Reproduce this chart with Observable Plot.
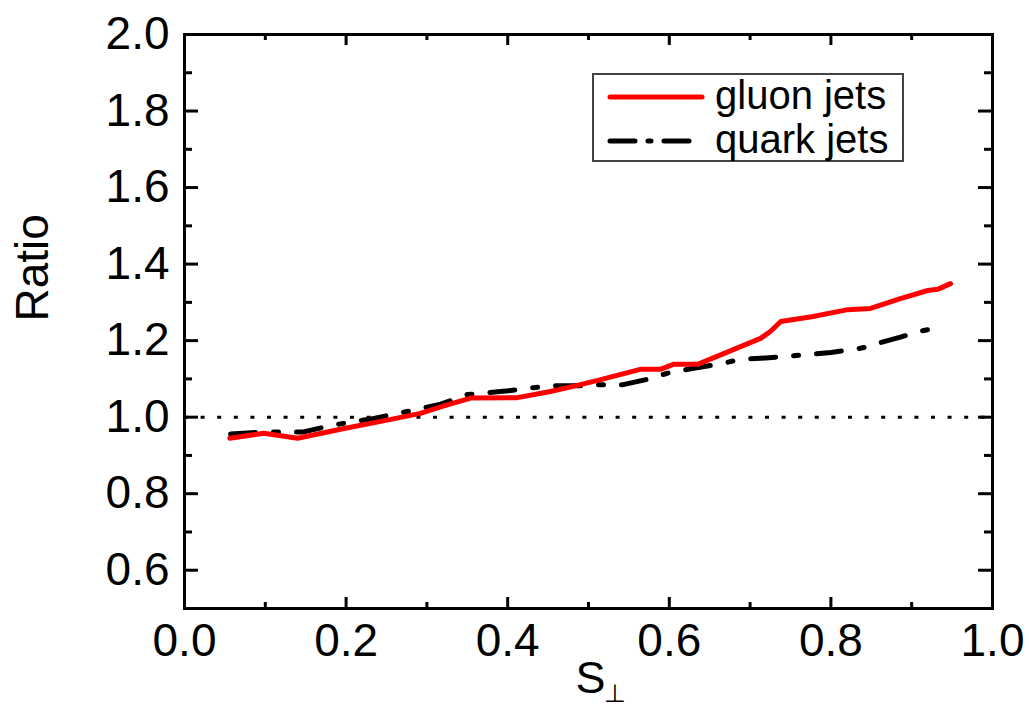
<!DOCTYPE html>
<html>
<head>
<meta charset="utf-8">
<script src="https://cdn.jsdelivr.net/npm/d3@7"></script>
<script src="https://cdn.jsdelivr.net/npm/@observablehq/plot@0.6"></script>
<style>
  html, body { margin: 0; padding: 0; background: #fff; }
  #wrap { position: relative; width: 1029px; height: 711px; overflow: hidden; font-family: "Liberation Sans", Arial, sans-serif; }
  #legend { position: absolute; left: 592px; top: 73px; }
</style>
</head>
<body>
<div id="wrap"></div>
<script>
// ---- data ----
const gluonX = [0.056, 0.098, 0.140, 0.199, 0.243, 0.292, 0.317, 0.354, 0.412, 0.453, 0.490, 0.515, 0.564, 0.589, 0.605, 0.635, 0.713, 0.725, 0.738, 0.778, 0.821, 0.849, 0.886, 0.920, 0.932, 0.948];
const gluonY = [0.945, 0.958, 0.945, 0.971, 0.989, 1.010, 1.027, 1.050, 1.051, 1.067, 1.085, 1.098, 1.125, 1.125, 1.138, 1.138, 1.206, 1.224, 1.250, 1.263, 1.281, 1.284, 1.310, 1.331, 1.334, 1.349];
const quarkX = [0.057, 0.097, 0.146, 0.183, 0.230, 0.290, 0.317, 0.350, 0.375, 0.401, 0.432, 0.459, 0.494, 0.515, 0.543, 0.573, 0.598, 0.630, 0.660, 0.688, 0.713, 0.746, 0.771, 0.800, 0.828, 0.849, 0.858, 0.886, 0.911, 0.939];
const quarkY = [0.956, 0.961, 0.961, 0.979, 0.995, 1.021, 1.034, 1.059, 1.064, 1.069, 1.077, 1.082, 1.082, 1.085, 1.085, 1.099, 1.115, 1.128, 1.138, 1.151, 1.154, 1.159, 1.164, 1.169, 1.177, 1.185, 1.193, 1.209, 1.225, 1.236];
const seriesNames = ["gluon jets", "quark jets"];
const xMajor = [0.0, 0.2, 0.4, 0.6, 0.8, 1.0];
const xMinor = [0.1, 0.3, 0.5, 0.7, 0.9];
const yMajor = [0.6, 0.8, 1.0, 1.2, 1.4, 1.6, 1.8, 2.0];
const yMinor = [0.7, 0.9, 1.1, 1.3, 1.5, 1.7, 1.9];
const refLine = [1.0];
const xLabel = "S";
const xLabelSub = "⊥";
const yLabel = "Ratio";

const gluon = gluonX.map((x, i) => ({x, y: gluonY[i]}));
const quark = quarkX.map((x, i) => ({x, y: quarkY[i]}));

const W = 1029, H = 711;
const mL = 184, mR = 37, mT = 34, mB = 103;
const pw = W - mL - mR, ph = H - mT - mB;
const fmt = d3.format(".1f");

const chart = Plot.plot({
  width: W, height: H,
  marginLeft: mL, marginRight: mR, marginTop: mT, marginBottom: mB,
  style: {fontFamily: "'Liberation Sans', Arial, sans-serif", color: "#000", background: "#fff", overflow: "visible"},
  x: {domain: [0, 1]},
  y: {domain: [0.5, 2.0]},
  marks: [
    // reference dotted line
    Plot.ruleY(refLine, {y: d => d, stroke: "#000", strokeWidth: 3, strokeDasharray: "4,12.6"}),
    // curves
    Plot.line(quark, {x: "x", y: "y", stroke: "#000", strokeWidth: 5, strokeLinecap: "round", strokeDasharray: "25,18,5,18"}),
    Plot.line(gluon, {x: "x", y: "y", stroke: "#ff0000", strokeWidth: 5, strokeLinejoin: "round", strokeLinecap: "round"}),
    // inward ticks: bottom & top
    Plot.ruleX(xMajor, {x: d => d, stroke: "#000", strokeWidth: 3, insetTop: ph - 11}),
    Plot.ruleX(xMinor, {x: d => d, stroke: "#000", strokeWidth: 3, insetTop: ph - 6}),
    Plot.ruleX(xMajor, {x: d => d, stroke: "#000", strokeWidth: 3, insetBottom: ph - 11}),
    Plot.ruleX(xMinor, {x: d => d, stroke: "#000", strokeWidth: 3, insetBottom: ph - 6}),
    // inward ticks: left & right
    Plot.ruleY(yMajor, {y: d => d, stroke: "#000", strokeWidth: 3, insetRight: pw - 14}),
    Plot.ruleY(yMinor, {y: d => d, stroke: "#000", strokeWidth: 3, insetRight: pw - 8}),
    Plot.ruleY(yMajor, {y: d => d, stroke: "#000", strokeWidth: 3, insetLeft: pw - 14}),
    Plot.ruleY(yMinor, {y: d => d, stroke: "#000", strokeWidth: 3, insetLeft: pw - 8}),
    Plot.frame({stroke: "#000", strokeWidth: 3}),
    // tick labels
    Plot.axisX({ticks: xMajor, tickSize: 0, tickPadding: 15, tickFormat: fmt, fontSize: 46, label: null}),
    Plot.axisY({ticks: yMajor, tickSize: 0, tickPadding: 15, tickFormat: fmt, fontSize: 46, label: null}),
    // axis titles
    Plot.text([yLabel], {text: d => d, frameAnchor: "left", rotate: -90, dx: -151, fontSize: 46, fill: "#000"}),
    Plot.text([xLabel], {text: d => d, frameAnchor: "bottom", dx: 2, dy: 84, fontSize: 45, fill: "#000"}),
    Plot.text([xLabelSub], {text: d => d, frameAnchor: "bottom", dx: 26, dy: 93, fontSize: 25, fill: "#000"})
  ]
});

const wrap = document.getElementById("wrap");
wrap.appendChild(chart);

// legend overlay (inside plot area, upper right)
const lg = d3.create("svg").attr("id", "legend").attr("width", 312).attr("height", 90)
  .style("font-family", "'Liberation Sans', Arial, sans-serif");
lg.append("rect").attr("x", 1).attr("y", 1).attr("width", 310).attr("height", 87)
  .attr("fill", "#fff").attr("stroke", "#444").attr("stroke-width", 2);
const rows = [
  {name: seriesNames[0], stroke: "#ff0000", w: 5, dash: null, cap: "round", y: 24},
  {name: seriesNames[1], stroke: "#000", w: 5, dash: "25,13,3,13", cap: "round", y: 68}
];
for (const r of rows) {
  const ln = lg.append("line").attr("x1", 18).attr("x2", 110).attr("y1", r.y).attr("y2", r.y)
    .attr("stroke", r.stroke).attr("stroke-width", r.w).attr("stroke-linecap", r.cap);
  if (r.dash) ln.attr("stroke-dasharray", r.dash);
  lg.append("text").attr("x", 123).attr("y", r.y).attr("dy", "0.3em")
    .attr("font-size", 40).attr("fill", "#000").text(r.name);
}
wrap.appendChild(lg.node());
</script>
</body>
</html>
